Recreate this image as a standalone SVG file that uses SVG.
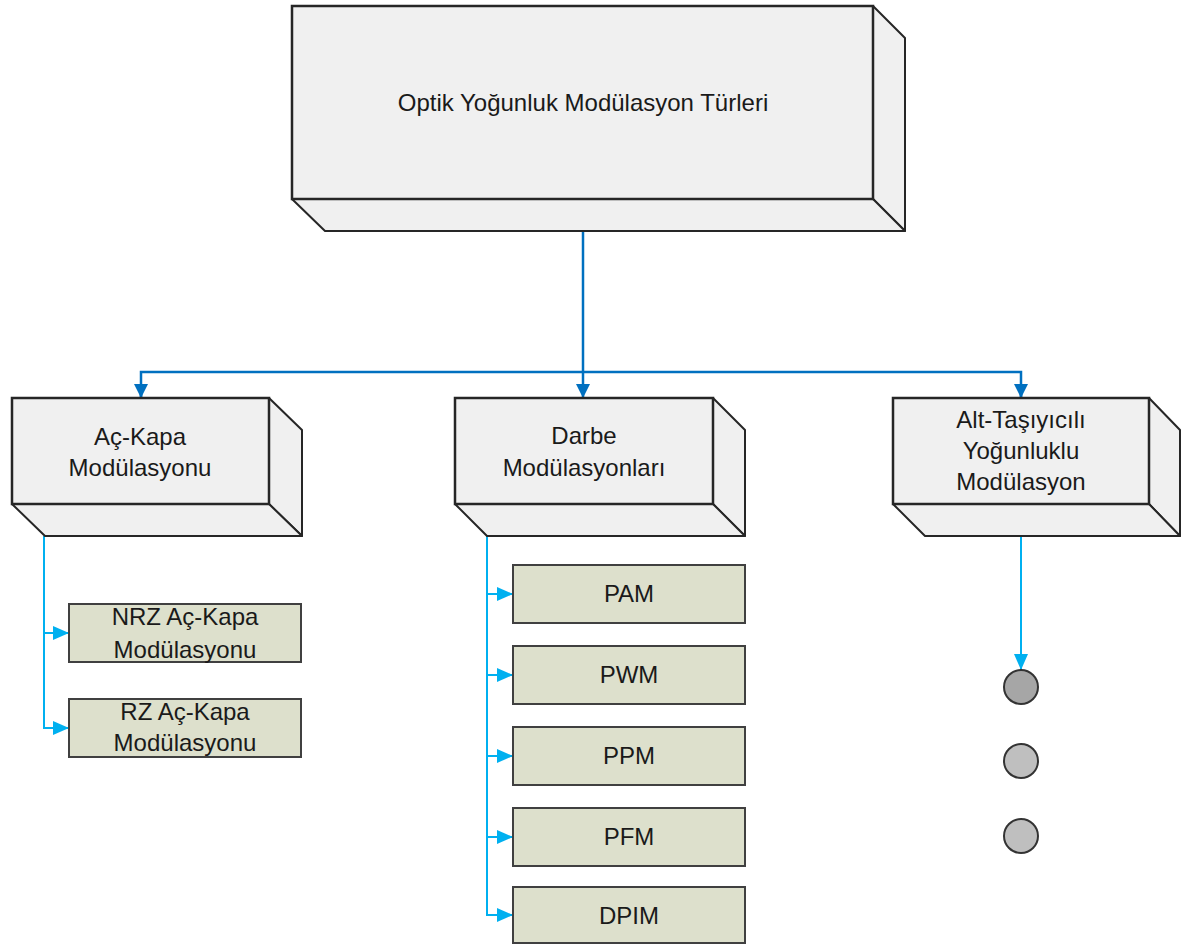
<svg xmlns="http://www.w3.org/2000/svg" width="1181" height="944" viewBox="0 0 1181 944">
<style>
.face{fill:#F0F0F0;stroke:#262626;stroke-width:2;stroke-linejoin:round}
.front{fill:#F0F0F0;stroke:#262626;stroke-width:2.5}
.leaf{fill:#DDE0CC;stroke:#404040;stroke-width:2}
.t{font-family:"Liberation Sans",Arial,sans-serif;font-size:24px;fill:#1a1a1a;text-anchor:middle}
.dark{fill:none;stroke:#0070C0;stroke-width:2.5}
.light{fill:none;stroke:#00B0F0;stroke-width:2}
.dot{stroke:#333;stroke-width:2}
</style>
<defs>
<marker id="ad" viewBox="0 0 14 14" refX="14" refY="7" markerWidth="14" markerHeight="14" orient="auto" markerUnits="userSpaceOnUse"><path d="M0,0 L14,7 L0,14 z" fill="#0070C0"/></marker>
<marker id="al" viewBox="0 0 16 14" refX="16" refY="7" markerWidth="16" markerHeight="14" orient="auto" markerUnits="userSpaceOnUse"><path d="M0,0 L16,7 L0,14 z" fill="#00B0F0"/></marker>
</defs>
<rect width="1181" height="944" fill="#fff"/>

<g id="connectors">
<path class="dark" d="M583,231 V398" marker-end="url(#ad)"/>
<path class="dark" d="M141,398 V372 H1021 V398" />
<path class="dark" d="M141,386 V398" marker-end="url(#ad)"/>
<path class="dark" d="M1021,386 V398" marker-end="url(#ad)"/>
<path class="light" d="M44,536 V633 H69" marker-end="url(#al)"/>
<path class="light" d="M44,633 V728 H69" marker-end="url(#al)"/>
<path class="light" d="M487,536 V594 H513" marker-end="url(#al)"/>
<path class="light" d="M487,594 V675 H513" marker-end="url(#al)"/>
<path class="light" d="M487,675 V756 H513" marker-end="url(#al)"/>
<path class="light" d="M487,756 V837 H513" marker-end="url(#al)"/>
<path class="light" d="M487,837 V915 H513" marker-end="url(#al)"/>
<path class="light" d="M1021,536 V670" marker-end="url(#al)"/>
</g>

<g id="n-root">
<polygon class="face" points="873,6 905,38 905,231 873,199"/>
<polygon class="face" points="292,199 873,199 905,231 325,231"/>
<rect class="front" x="292" y="6" width="581" height="193"/>
<text class="t" x="583" y="111">Optik Yoğunluk Modülasyon Türleri</text>
</g>

<g id="n-ackapa">
<polygon class="face" points="269,398 302,430 302,536 269,504"/>
<polygon class="face" points="12,504 269,504 302,536 45,536"/>
<rect class="front" x="12" y="398" width="257" height="106"/>
<text class="t" x="140" y="445">Aç-Kapa</text>
<text class="t" x="140" y="476">Modülasyonu</text>
</g>

<g id="n-darbe">
<polygon class="face" points="713,398 745,430 745,536 713,504"/>
<polygon class="face" points="455,504 713,504 745,536 487,536"/>
<rect class="front" x="455" y="398" width="258" height="106"/>
<text class="t" x="584" y="444">Darbe</text>
<text class="t" x="584" y="476">Modülasyonları</text>
</g>

<g id="n-alt">
<polygon class="face" points="1149,398 1180,430 1180,536 1149,504"/>
<polygon class="face" points="893,504 1149,504 1180,536 925,536"/>
<rect class="front" x="893" y="398" width="256" height="106"/>
<text class="t" x="1021" y="428">Alt-Taşıyıcılı</text>
<text class="t" x="1021" y="459">Yoğunluklu</text>
<text class="t" x="1021" y="490">Modülasyon</text>
</g>

<g id="n-nrz">
<rect class="leaf" x="69" y="604" width="232" height="58"/>
<text class="t" x="185" y="625">NRZ Aç-Kapa</text>
<text class="t" x="185" y="658">Modülasyonu</text>
</g>
<g id="n-rz">
<rect class="leaf" x="69" y="699" width="232" height="58"/>
<text class="t" x="185" y="720">RZ Aç-Kapa</text>
<text class="t" x="185" y="751">Modülasyonu</text>
</g>

<g id="n-pam"><rect class="leaf" x="513" y="565" width="232" height="58"/><text class="t" x="629" y="602">PAM</text></g>
<g id="n-pwm"><rect class="leaf" x="513" y="646" width="232" height="58"/><text class="t" x="629" y="683">PWM</text></g>
<g id="n-ppm"><rect class="leaf" x="513" y="727" width="232" height="58"/><text class="t" x="629" y="764">PPM</text></g>
<g id="n-pfm"><rect class="leaf" x="513" y="808" width="232" height="58"/><text class="t" x="629" y="845">PFM</text></g>
<g id="n-dpim"><rect class="leaf" x="513" y="887" width="232" height="56"/><text class="t" x="629" y="924">DPIM</text></g>

<g id="n-dot1"><circle class="dot" cx="1021" cy="687" r="17" fill="#A6A6A6"/></g>
<g id="n-dot2"><circle class="dot" cx="1021" cy="761" r="17" fill="#BFBFBF"/></g>
<g id="n-dot3"><circle class="dot" cx="1021" cy="836" r="17" fill="#BFBFBF"/></g>
</svg>
